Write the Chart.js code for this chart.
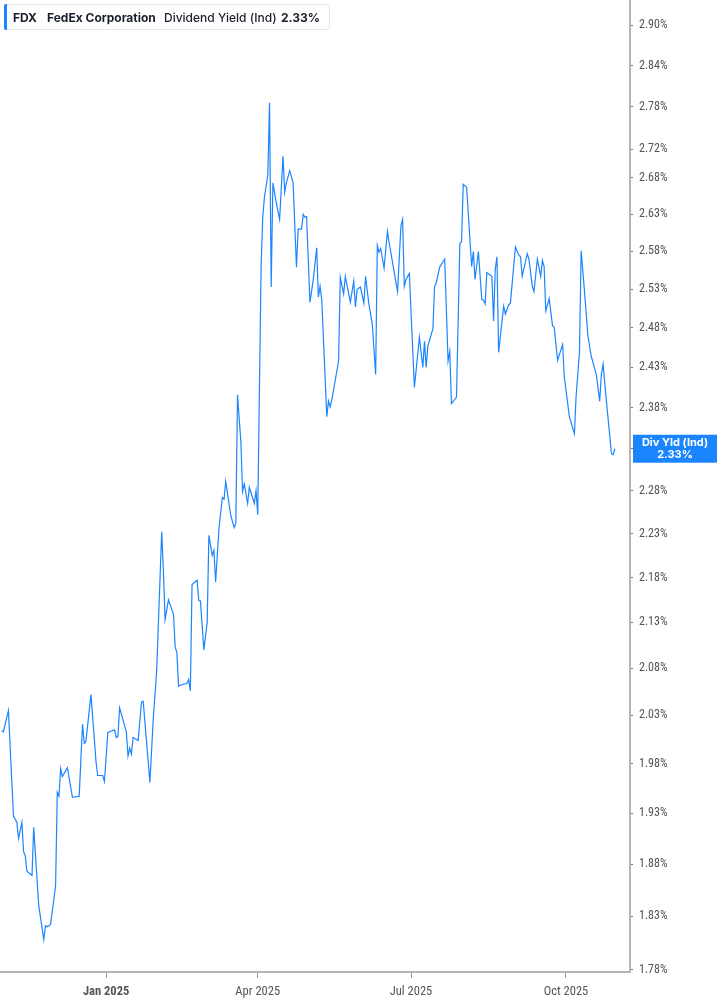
<!DOCTYPE html>
<html><head><meta charset="utf-8">
<script src="https://cdn.jsdelivr.net/npm/chart.js@4"></script>
<style>
html,body{margin:0;padding:0;background:#fff;}
#wrap{position:relative;width:717px;height:1005px;}
#c{position:absolute;left:0;top:0;}
#hdr{position:absolute;left:4px;top:4px;height:26px;width:326px;box-sizing:border-box;border:1px solid #e3e5ea;border-radius:3px;background:#fff;font-family:Inter,'Noto Sans',sans-serif;font-size:12px;color:#1b1f2e;}
#hdr .bar{position:absolute;left:-1px;top:-1px;bottom:-1px;width:3px;background:#1a85ff;border-radius:2px 0 0 2px;}
#hdr span{position:absolute;top:5px;white-space:nowrap;}
</style></head>
<body>
<div id="wrap">
<canvas id="c" width="717" height="1005"></canvas>
<div id="hdr"><div class="bar"></div>
<span style="left:8px;font-weight:700">FDX</span>
<span style="left:42px;font-weight:700">FedEx Corporation</span>
<span style="left:159px;font-weight:500">Dividend Yield (Ind)</span>
<span style="left:276px;font-weight:700">2.33%</span>
</div>
</div>
<script>
const dates = [
"2024-10-31","2024-11-01","2024-11-04","2024-11-07","2024-11-09","2024-11-10","2024-11-12","2024-11-13","2024-11-14","2024-11-15",
"2024-11-18","2024-11-19","2024-11-22","2024-11-25","2024-11-26","2024-11-27","2024-11-29","2024-12-02","2024-12-03","2024-12-04",
"2024-12-05","2024-12-06","2024-12-09","2024-12-12","2024-12-16","2024-12-18","2024-12-19","2024-12-20","2024-12-23","2024-12-26",
"2024-12-27","2024-12-30","2024-12-31","2025-01-02","2025-01-03","2025-01-06","2025-01-07","2025-01-08","2025-01-09","2025-01-13",
"2025-01-14","2025-01-15","2025-01-16","2025-01-17","2025-01-20","2025-01-22","2025-01-23","2025-01-27","2025-01-29","2025-01-31",
"2025-02-03","2025-02-04","2025-02-05","2025-02-07","2025-02-10","2025-02-11","2025-02-12","2025-02-13","2025-02-14","2025-02-18",
"2025-02-19","2025-02-20","2025-02-21","2025-02-24","2025-02-25","2025-02-26","2025-02-28","2025-03-02","2025-03-03","2025-03-05",
"2025-03-06","2025-03-07","2025-03-09","2025-03-11","2025-03-12","2025-03-13","2025-03-16","2025-03-18","2025-03-19","2025-03-20",
"2025-03-22","2025-03-23","2025-03-24","2025-03-26","2025-03-27","2025-03-30","2025-03-31","2025-04-01","2025-04-03","2025-04-04",
"2025-04-05","2025-04-07","2025-04-08","2025-04-09","2025-04-10","2025-04-12","2025-04-14","2025-04-16","2025-04-17","2025-04-18",
"2025-04-20","2025-04-22","2025-04-24","2025-04-25","2025-04-27","2025-04-28","2025-04-29","2025-04-30","2025-05-02","2025-05-04",
"2025-05-06","2025-05-07","2025-05-08","2025-05-09","2025-05-12","2025-05-13","2025-05-14","2025-05-15","2025-05-19","2025-05-20",
"2025-05-22","2025-05-23","2025-05-26","2025-05-28","2025-05-29","2025-05-30","2025-06-01","2025-06-03","2025-06-04","2025-06-06",
"2025-06-08","2025-06-10","2025-06-11","2025-06-12","2025-06-13","2025-06-15","2025-06-17","2025-06-18","2025-06-23","2025-06-25",
"2025-06-26","2025-06-27","2025-06-28","2025-06-30","2025-07-03","2025-07-06","2025-07-08","2025-07-09","2025-07-10","2025-07-11",
"2025-07-14","2025-07-15","2025-07-16","2025-07-18","2025-07-21","2025-07-23","2025-07-24","2025-07-25","2025-07-28","2025-07-30",
"2025-07-31","2025-08-01","2025-08-03","2025-08-06","2025-08-07","2025-08-08","2025-08-10","2025-08-12","2025-08-13","2025-08-14",
"2025-08-15","2025-08-18","2025-08-19","2025-08-20","2025-08-21","2025-08-22","2025-08-25","2025-08-26","2025-08-28","2025-08-29",
"2025-09-01","2025-09-03","2025-09-04","2025-09-05","2025-09-08","2025-09-09","2025-09-11","2025-09-12","2025-09-14","2025-09-16",
"2025-09-17","2025-09-18","2025-09-19","2025-09-21","2025-09-23","2025-09-24","2025-09-26","2025-09-29","2025-09-30","2025-10-03",
"2025-10-06","2025-10-07","2025-10-09","2025-10-10","2025-10-12","2025-10-14","2025-10-16","2025-10-19","2025-10-21","2025-10-22",
"2025-10-23","2025-10-25","2025-10-28","2025-10-29","2025-10-30"
];
const yields = [
2.014,2.013,2.035,1.927,1.921,1.905,1.921,1.892,1.888,1.873,
1.869,1.916,1.840,1.808,1.821,1.820,1.822,1.859,1.951,1.947,
1.975,1.967,1.976,1.946,1.947,2.021,2.001,2.003,2.052,1.982,
1.968,1.968,1.962,2.012,2.013,2.015,2.007,2.008,2.038,2.013,
1.988,1.996,1.990,2.007,2.004,2.044,2.045,1.961,2.027,2.077,
2.232,2.188,2.133,2.155,2.139,2.103,2.097,2.061,2.062,2.064,
2.068,2.056,2.172,2.177,2.154,2.154,2.100,2.130,2.228,2.205,
2.211,2.175,2.236,2.272,2.270,2.291,2.251,2.237,2.242,2.396,
2.338,2.279,2.288,2.265,2.284,2.265,2.280,2.252,2.560,2.627,
2.654,2.684,2.786,2.533,2.673,2.646,2.623,2.710,2.660,2.673,
2.690,2.673,2.559,2.610,2.610,2.630,2.626,2.627,2.513,2.543,
2.585,2.520,2.534,2.517,2.369,2.388,2.381,2.390,2.438,2.546,
2.524,2.547,2.513,2.541,2.507,2.530,2.533,2.512,2.547,2.511,
2.485,2.421,2.588,2.579,2.584,2.558,2.607,2.592,2.527,2.614,
2.623,2.534,2.543,2.551,2.405,2.468,2.430,2.463,2.430,2.457,
2.479,2.534,2.539,2.559,2.570,2.438,2.450,2.385,2.393,2.591,
2.593,2.671,2.667,2.560,2.580,2.543,2.580,2.517,2.516,2.511,
2.552,2.547,2.489,2.556,2.573,2.449,2.508,2.498,2.510,2.512,
2.586,2.575,2.573,2.547,2.577,2.570,2.534,2.527,2.570,2.547,
2.568,2.560,2.502,2.518,2.483,2.481,2.439,2.459,2.418,2.369,
2.348,2.394,2.449,2.581,2.527,2.470,2.444,2.421,2.388,2.421,
2.434,2.388,2.324,2.323,2.330
];
const xTickDates = ["2025-01-01","2025-04-01","2025-07-01","2025-10-01"];
const xTickLabels = ["Jan 2025","Apr 2025","Jul 2025","Oct 2025"];
const yTicks = [1.78,1.83,1.88,1.93,1.98,2.03,2.08,2.13,2.18,2.23,2.28,2.33,2.38,2.43,2.48,2.53,2.58,2.63,2.68,2.72,2.78,2.84,2.90];
const xRange = ["2024-10-30","2025-11-08"];
const yRange = [1.778, 2.938];
const seriesLabel = "Div Yld (Ind)";

const t = s => Date.parse(s + "T00:00:00Z");
const points = dates.map((d, i) => ({ x: t(d), y: yields[i] }));
const lastVal = yields[yields.length - 1];
const BLUE = "#1a85ff";
const FONT = "'Liberation Sans Narrow','Roboto Condensed',Roboto,sans-serif";

const lastLabel = {
  id: "lastLabel",
  afterDraw(chart) {
    const { ctx, chartArea, scales } = chart;
    const y = scales.y.getPixelForValue(lastVal);
    const x0 = chartArea.right + 3;
    ctx.save();
    ctx.fillStyle = BLUE;
    ctx.fillRect(x0, y - 14, chart.width - x0, 28);
    ctx.fillStyle = "#fff";
    ctx.textAlign = "center";
    ctx.textBaseline = "middle";
    ctx.font = "bold 11px Inter, 'Noto Sans', sans-serif";
    const cx = (x0 + chart.width) / 2;
    ctx.fillText(seriesLabel, cx, y - 6);
    ctx.fillText(lastVal.toFixed(2) + "%", cx, y + 6);
    ctx.restore();
  }
};

new Chart(document.getElementById("c"), {
  type: "line",
  data: { datasets: [{ data: points, borderColor: BLUE, borderWidth: 1.2, pointRadius: 0, tension: 0, fill: false }] },
  options: {
    responsive: false,
    animation: false,
    layout: { padding: 0 },
    plugins: { legend: { display: false }, tooltip: { enabled: false } },
    scales: {
      x: {
        type: "linear",
        min: t(xRange[0]), max: t(xRange[1]),
        afterBuildTicks: s => { s.ticks = xTickDates.map(d => ({ value: t(d) })); },
        afterFit: s => { s.height = 33; s.paddingLeft = 0; s.paddingRight = 0; },
        ticks: {
          autoSkip: false, maxRotation: 0, padding: 6, color: "#555",
          font: c => ({ family: FONT, size: 12.5, weight: c.index === 0 ? "bold" : "normal" }),
          callback: (v, i) => xTickLabels[i]
        },
        grid: { drawOnChartArea: false, drawTicks: true, tickLength: 6, color: "#999" },
        border: { display: true, color: "#b5b5b5", width: 2 }
      },
      y: {
        type: "logarithmic",
        position: "right",
        min: yRange[0], max: yRange[1],
        afterBuildTicks: s => { s.ticks = yTicks.map(v => ({ value: v })); },
        afterFit: s => { s.width = 87; s.paddingTop = 0; s.paddingBottom = 0; },
        ticks: {
          autoSkip: false, padding: 6, color: "#555",
          font: { family: FONT, size: 12 },
          callback: v => Number(v).toFixed(2) + "%"
        },
        grid: { drawOnChartArea: false, drawTicks: true, tickLength: 3, color: "#777" },
        border: { display: true, color: "#b5b5b5", width: 2 }
      }
    }
  },
  plugins: [lastLabel]
});
</script>
</body></html>
